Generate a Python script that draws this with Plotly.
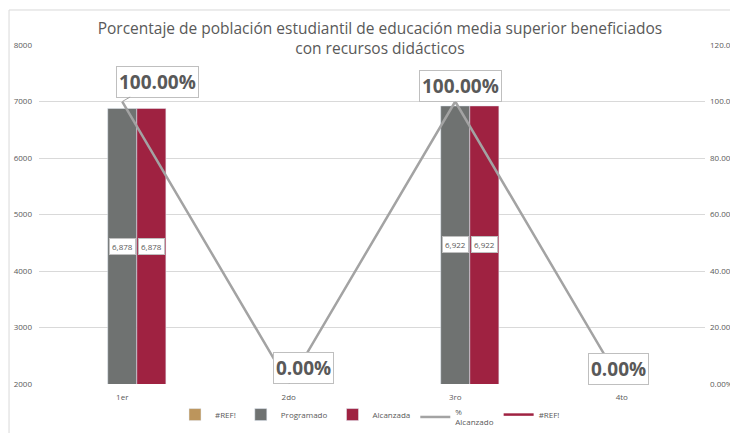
import plotly.graph_objects as go

categories = ["1er", "2do", "3ro", "4to"]
ref_bar = [None, None, None, None]
programado = [6878, None, 6922, None]
alcanzada = [6878, None, 6922, None]
pct_alcanzado = [1.0, 0.0, 1.0, 0.0]
ref_line = [None, None, None, None]
title_text = "Porcentaje de población estudiantil de educación media superior beneficiados<br>con recursos didácticos"

GOLD = "#BC955C"
GRAY = "#6F7271"
RED = "#9F2241"
LGRAY = "#A3A3A3"
TXT = "#595959"
FONT = "Open Sans"

fig = go.Figure()
fig.add_trace(go.Bar(name="#REF!", x=categories, y=ref_bar, marker_color=GOLD, yaxis="y"))
fig.add_trace(go.Bar(name="Programado", x=categories, y=programado, marker_color=GRAY, yaxis="y"))
fig.add_trace(go.Bar(name="Alcanzada", x=categories, y=alcanzada, marker_color=RED, yaxis="y"))
fig.add_trace(go.Scatter(name="%<br>Alcanzado", x=categories, y=pct_alcanzado, mode="lines",
                         line=dict(color=LGRAY, width=2.5), yaxis="y2"))
fig.add_trace(go.Scatter(name="#REF!", x=categories, y=ref_line, mode="lines",
                         line=dict(color=RED, width=2.5), yaxis="y2"))

annotations = []
ymin = 2000
# bar value labels (centered on visible part of bar)
for cat, p, a in zip(categories, programado, alcanzada):
    for val, shift in ((p, 0), (a, 29)):
        if val is None:
            continue
        annotations.append(dict(
            x=cat, y=(ymin + val) / 2, xref="x", yref="y", xshift=shift,
            text=f"{val:,}", showarrow=False,
            font=dict(size=8, color=TXT, family=FONT),
            bgcolor="white", bordercolor="#BFBFBF", borderwidth=1, borderpad=2))

# percentage labels
offsets = [(35, -20), (15, -16), (5, -16), (-3, -15)]
for cat, v, (ax, ay) in zip(categories, pct_alcanzado, offsets):
    annotations.append(dict(
        x=cat, y=v, xref="x", yref="y2", text=f"<b>{v*100:.2f}%</b>",
        showarrow=True, arrowhead=0, arrowwidth=1, arrowcolor=LGRAY,
        ax=ax, ay=ay, font=dict(size=19, color=TXT, family=FONT),
        bgcolor="white", bordercolor="#BFBFBF", borderwidth=1, borderpad=2))

fig.update_layout(
    width=738, height=433,
    margin=dict(l=31, r=41, t=0, b=0),
    paper_bgcolor="white", plot_bgcolor="white",
    font=dict(family=FONT, color=TXT, size=8),
    title=dict(text=title_text, x=0.504, xanchor="center", y=0.941, yanchor="middle",
               font=dict(size=15.5, color=TXT, family=FONT)),
    barmode="group", bargap=0.476, bargroupgap=0,
    xaxis=dict(showgrid=False, showline=False, zeroline=False, ticks="",
               tickfont=dict(size=8, color=TXT), ticklabelstandoff=7, automargin=False),
    yaxis=dict(range=[2000, 8000], dtick=1000, showgrid=True, gridcolor="#D9D9D9",
               gridwidth=1, zeroline=False, showline=False, tickformat="d",
               tickfont=dict(size=8, color=TXT), ticklabelstandoff=6,
               domain=[0.1316, 0.9145], automargin=False),
    yaxis2=dict(range=[0, 1.2], dtick=0.2, overlaying="y", side="right",
                showgrid=False, zeroline=False, showline=False, tickformat=".2%",
                tickfont=dict(size=8, color=TXT), ticklabelstandoff=4, automargin=False),
    legend=dict(orientation="h", x=0.497, xanchor="center", y=0.016, yanchor="bottom",
                font=dict(size=8, color=TXT), entrywidth=0, traceorder="normal",
                itemwidth=30, tracegroupgap=0),
    annotations=annotations,
    showlegend=True,
    shapes=[
        dict(type="line", xref="paper", yref="paper", x0=-0.045, x1=-0.045, y0=0.9954, y1=-0.1,
             line=dict(color="#D9D9D9", width=1)),
        dict(type="line", xref="paper", yref="paper", x0=-0.045, x1=1.1, y0=0.9954, y1=0.9954,
             line=dict(color="#D9D9D9", width=1)),
    ],
)

fig.write_html("out.html")
